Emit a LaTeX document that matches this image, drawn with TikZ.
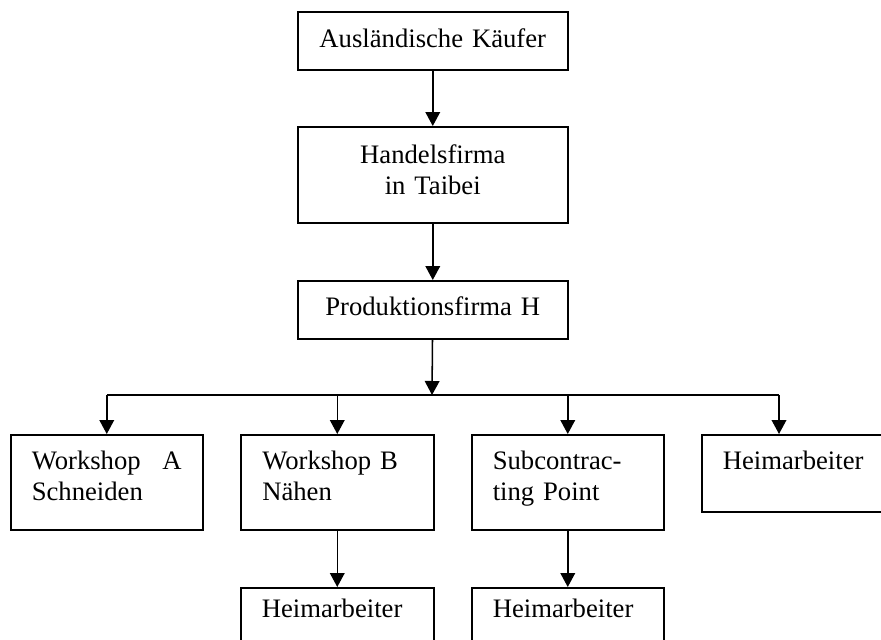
\documentclass[tikz,border=0pt]{standalone}
\usepackage{fontspec}
\setmainfont{Liberation Serif}
\usetikzlibrary{arrows.meta}
\tikzset{
  oben/.style={draw, line width=1.15pt, anchor=north west, inner sep=0pt,
    text width=202.5pt, align=center, font=\fontsize{20pt}{23pt}\selectfont},
  unten/.style={draw, line width=1.15pt, anchor=north west, inner ysep=0pt,
    inner xsep=15.75pt, text width=112.5pt, align=left,
    font=\fontsize{20pt}{23pt}\selectfont},
  pfeil/.style={-{Triangle[width=11pt,length=10.5pt]}, line width=1.15pt}
}

\begin{document}
\begin{tikzpicture}[x=0.75pt,y=-0.75pt]
\path[use as bounding box, clip] (0,0) rectangle (881,639);
% obere Kette
\node[oben, text height=27pt, text depth=16.5pt] (kaeufer) at (297,11) {Ausländische Käufer};
\node[oben, text height=27.75pt, text depth=44.25pt] (handel) at (297,126) {Handelsfirma\\in Taibei};
\node[oben, text height=26.25pt, text depth=17.25pt] (prod) at (297,280) {Produktionsfirma H};
% untere Ebene
\node[unten, text height=26.25pt, text depth=45pt] (wsA) at (10,434) {Workshop\hfill A\\Schneiden};
\node[unten, text height=26.25pt, text depth=45pt, minimum width=144.75pt] (wsB) at (240,434) {Workshop B\\Nähen};
\node[unten, text height=26.25pt, text depth=45pt] (sub) at (471,434) {Subcontrac-\\ting Point};
\node[unten, text height=26.25pt, text depth=31.5pt, text width=118pt] (heimR) at (701,434) {Heimarbeiter};
\node[unten, text height=22.5pt, text depth=52.5pt, text width=113.25pt] (heimB) at (240,587) {Heimarbeiter};
\node[unten, text height=22.5pt, text depth=52.5pt] (heimS) at (471,587) {Heimarbeiter};
\coordinate (verteiler) at (432,395);
\coordinate (rEin) at (779,434);
% Pfeile
\draw[pfeil] (kaeufer) -- (handel);
\draw[pfeil] (handel) -- (prod);
\draw[pfeil] (prod) -- (verteiler);
\draw[line width=1.15pt] (wsA.north |- verteiler) -- (rEin |- verteiler);
\foreach \n in {wsA,wsB,sub}
  \draw[pfeil] (\n.north |- verteiler) -- (\n.north);
\draw[pfeil] (rEin |- verteiler) -- (rEin);
\draw[pfeil] (wsB) -- (heimB);
\draw[pfeil] (sub) -- (heimS);
\end{tikzpicture}
\end{document}
